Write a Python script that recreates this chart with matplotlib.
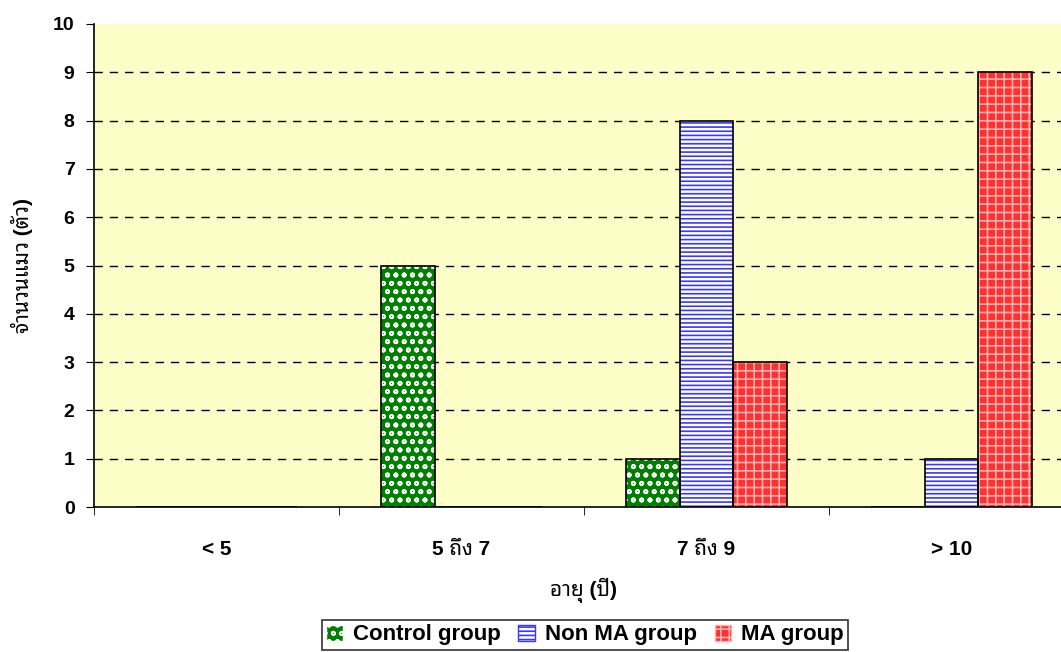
import numpy as np
import matplotlib.pyplot as plt
from matplotlib.patches import Patch

# Latin text in Liberation Sans, Thai falls through to a looped Thai face
plt.rcParams['font.family'] = ['Liberation Sans', 'Noto Sans Thai Looped', 'Loma', 'DejaVu Sans']
plt.rcParams['font.weight'] = 'bold'
plt.rcParams['hatch.linewidth'] = 1.2

# age groups and cat counts
age_groups = ['< 5', '5 ถึง 7', '7 ถึง 9', '> 10']
control_group = [0, 5, 1, 0]
non_ma_group = [0, 0, 8, 1]
ma_group = [0, 0, 3, 9]

series = [
    ('Control group', control_group, '#008000', 'white', 'oo'),
    ('Non MA group', non_ma_group, 'white', '#3838ff', '----'),
    ('MA group', ma_group, '#ff3030', '#ffb0b0', '++'),
]

fig = plt.figure(figsize=(10.61, 6.52), dpi=100)
# axes runs a little past the right edge of the figure
ax = fig.add_axes([94 / 1061, 145 / 652, 980 / 1061, 483 / 652])
ax.set_facecolor('#fdfdc8')

x = np.arange(len(age_groups))
w = 0.22
handles = []
for i, (name, vals, face, hatch_col, hatch) in enumerate(series):
    pos = x + (i - 1) * w
    vals = np.array(vals)
    ax.bar(pos, vals, w, color=face, edgecolor=hatch_col, hatch=hatch,
           linewidth=0, zorder=3)
    ax.bar(pos, vals, w, fill=False, edgecolor='black', linewidth=1.2, zorder=4)
    handles.append(Patch(facecolor=face, edgecolor=hatch_col, hatch=hatch))

ax.set_xlim(-0.5, 3.5)
ax.set_ylim(0, 10)
ax.set_yticks(range(0, 11))
ax.set_xticks(x)
ax.set_xticklabels(age_groups)
ax.set_xticks(np.arange(-0.5, 4.0, 1.0), minor=True)
ax.tick_params(axis='x', which='major', length=0, pad=24, labelsize=15)
ax.tick_params(axis='x', which='minor', length=6, direction='out', color='black')
ax.tick_params(axis='y', length=6, direction='out', labelsize=14, pad=8)

for y in range(1, 10):
    ax.axhline(y, color='black', linestyle=(0, (6, 5)), linewidth=1, zorder=1)

ax.spines['top'].set_visible(False)
ax.spines['right'].set_visible(False)
for s in ('left', 'bottom'):
    ax.spines[s].set_linewidth(1.2)

ax.set_xlabel('อายุ (ปี)', fontsize=15, fontweight='bold', labelpad=13)
ax.set_ylabel('จำนวนแมว (ตัว)', fontsize=15, fontweight='bold', labelpad=14)

leg = fig.legend(handles, [s[0] for s in series], loc='upper center',
                 bbox_to_anchor=(585 / 1061, 1 - 620 / 652), ncol=3,
                 frameon=True, fancybox=False, edgecolor='black',
                 fontsize=16, handlelength=0.75, handleheight=0.75,
                 handletextpad=0.45, columnspacing=0.8, borderpad=0.2,
                 borderaxespad=0)
leg.get_frame().set_linewidth(1.2)

fig.savefig('out.png', dpi=100)
